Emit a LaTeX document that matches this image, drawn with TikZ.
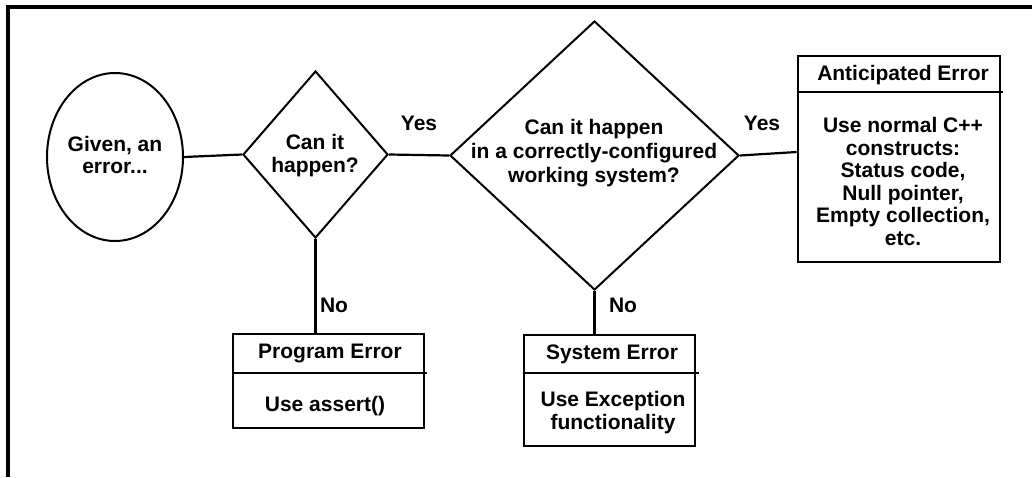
\documentclass[tikz,border=0pt]{standalone}
\usepackage{fontspec}
\setmainfont{Liberation Sans}
\usetikzlibrary{shapes.geometric}
\begin{document}
\begin{tikzpicture}[x=0.5pt,y=-0.5pt,
  txt/.style={font=\bfseries\fontsize{10.5}{11.3}\selectfont, align=center, inner sep=0pt},
  dia/.style={diamond, draw, line width=1pt, inner sep=0pt},
  boxst/.style={draw, line width=1.3pt, rectangle, inner sep=0pt},
  boxline/.style={line width=1.3pt},
  conn/.style={line width=1.1pt},
  frame/.style={line width=2pt}]
\useasboundingbox (0,0) rectangle (1032,477);
\draw[frame] (8,477) -- (8,6.5) -- (1032,6.5);

% start ellipse
\node[ellipse, draw, line width=1pt, minimum width=68pt, minimum height=84pt, inner sep=0pt] (given) at (115,157) {};
\node[txt] (givent) at (115,155) {Given, an\\error...};

% decisions
\node[dia, minimum width=72.5pt, minimum height=83.5pt] (d1) at (315.5,154.5) {};
\node[txt] (d1t) at (315,155.5) {Can it\\happen?};
\node[dia, minimum width=144.5pt, minimum height=134.5pt] (d2) at (594.5,155.5) {};
\node[txt, font=\bfseries\fontsize{10.5}{12}\selectfont] (d2t) at (594,153) {Can it happen\\in a correctly-configured\\working system?};

% boxes
\node[boxst, minimum width=95.5pt, minimum height=47pt] (prog) at (328.5,381) {};
\node[txt] (progh) at (330,353.5) {Program Error};
\node[txt] (progb) at (325,406) {Use assert()};
\draw[boxline] (prog.west |- 0,373) -- ++(195,0);

\node[boxst, minimum width=85.5pt, minimum height=55.5pt] (sys) at (609.5,390.5) {};
\node[txt] (sysh) at (612,354) {System Error};
\node[txt] (sysb) at (613,412.5) {Use Exception\\functionality};
\draw[boxline] (sys.west |- 0,373) -- ++(176,0);

\node[boxst, minimum width=101pt, minimum height=103pt] (ant) at (899,159) {};
\node[txt] (anth) at (903,75) {Anticipated Error};
\node[txt] (antb) at (903,181.5) {Use normal C++\\constructs:\\Status code,\\Null pointer,\\Empty collection,\\etc.};
\draw[boxline] (ant.west |- 0,92) -- ++(206,0);

% connectors
\draw[conn] (given.east) -- (d1.west);
\draw[conn] (d1.east) -- (d2.west);
\draw[conn] (d2.east) -- (ant.west |- 0,152);
\draw[conn] (d1.south) -- (d1.south |- prog.north);
\draw[conn] (d2.south) -- (d2.south |- sys.north);

% labels
\node[txt] (yes1) at (419,123) {Yes};
\node[txt] (yes2) at (762,123) {Yes};
\node[txt] (no1) at (334,305) {No};
\node[txt] (no2) at (623,305) {No};
\end{tikzpicture}
\end{document}
